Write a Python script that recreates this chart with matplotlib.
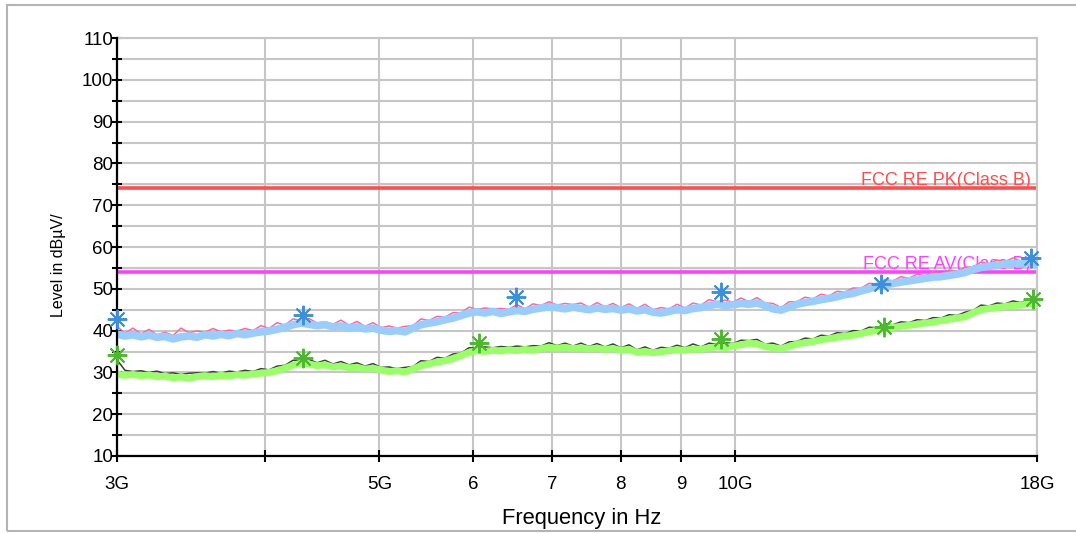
import numpy as np
import matplotlib
matplotlib.use("Agg")
import matplotlib.pyplot as plt
from matplotlib.patches import Rectangle
from matplotlib.ticker import FixedLocator, NullLocator

plt.rcParams['font.family'] = ['Liberation Sans', 'DejaVu Sans']

# ---------------- data ----------------
f_start_hz = 3e9
f_stop_hz = 18e9
n_points = 116

peak_maxhold = [
    41.0, 39.4, 40.6, 39.2, 40.3, 39.0, 39.6, 38.8, 40.6, 39.5,
    39.9, 39.6, 40.5, 39.7, 40.1, 39.9, 40.5, 40.0, 41.2, 40.5,
    41.9, 41.3, 42.8, 42.4, 42.9, 41.8, 42.1, 41.5, 42.5, 41.3,
    42.2, 41.0, 41.9, 40.7, 41.1, 40.6, 41.0, 41.2, 42.8, 42.4,
    43.4, 43.2, 44.3, 44.2, 45.6, 45.1, 45.4, 45.2, 45.3, 45.1,
    46.2, 45.2, 46.4, 46.0, 46.9, 46.1, 46.5, 46.2, 46.6, 45.6,
    46.7, 45.7, 46.5, 45.5, 46.4, 45.3, 46.3, 45.0, 45.5, 45.2,
    46.3, 45.4, 46.6, 46.1, 47.4, 46.9, 47.3, 46.8, 47.8, 46.9,
    47.9, 46.6, 46.5, 45.5, 46.9, 46.9, 48.0, 47.6, 48.7, 48.3,
    49.4, 49.2, 50.2, 50.1, 51.3, 51.2, 52.2, 51.9, 52.9, 52.5,
    53.5, 53.1, 54.1, 53.5, 54.5, 54.1, 55.2, 55.2, 56.4, 56.0,
    56.9, 56.5, 57.4, 56.6, 57.5, 56.8,
]

peak_trace = [
    39.2, 38.7, 39.0, 38.5, 38.9, 38.4, 38.6, 38.0, 38.5, 38.7,
    38.4, 39.0, 38.7, 39.1, 38.8, 39.3, 39.0, 39.4, 39.7, 39.9,
    40.3, 40.8, 41.4, 41.8, 41.5, 41.2, 41.4, 40.9, 41.1, 40.7,
    40.9, 40.4, 40.6, 40.1, 39.8, 40.0, 39.7, 40.6, 41.4, 41.8,
    42.1, 42.6, 43.0, 43.6, 44.2, 44.5, 44.2, 44.6, 44.1, 44.5,
    44.8, 44.6, 45.1, 45.4, 45.7, 45.5, 45.2, 45.6, 45.3, 45.0,
    45.4, 45.1, 45.3, 44.9, 45.2, 44.7, 45.0, 44.4, 44.2, 44.6,
    45.0, 44.8, 45.3, 45.5, 46.0, 46.3, 46.0, 46.2, 46.5, 46.3,
    46.6, 46.0, 45.2, 44.9, 45.6, 46.3, 46.7, 47.0, 47.4, 47.7,
    48.1, 48.6, 48.9, 49.5, 50.0, 50.6, 50.9, 51.3, 51.6, 51.9,
    52.2, 52.5, 52.8, 52.9, 53.2, 53.5, 53.9, 54.6, 55.1, 55.4,
    55.6, 55.9, 56.1, 56.0, 56.3, 56.1,
]

avg_maxhold = [
    33.0, 30.5, 30.2, 30.4, 30.0, 30.3, 29.7, 29.9, 29.5, 29.8,
    29.9, 29.8, 30.2, 29.8, 30.3, 30.1, 30.5, 30.2, 30.9, 30.6,
    31.5, 31.7, 32.9, 32.8, 33.1, 32.3, 32.9, 32.0, 32.6, 31.8,
    32.3, 31.5, 32.1, 31.2, 31.3, 30.9, 31.2, 31.4, 32.8, 32.6,
    33.6, 33.4, 34.4, 34.6, 35.9, 35.8, 36.1, 35.9, 36.2, 36.0,
    36.3, 36.1, 36.4, 36.3, 37.1, 36.4, 37.0, 36.3, 37.0, 36.2,
    36.9, 36.1, 36.8, 35.9, 36.6, 35.4, 36.1, 35.3, 36.0, 35.8,
    36.5, 35.9, 36.8, 36.1, 37.0, 36.7, 37.1, 36.9, 37.7, 37.6,
    37.9, 36.8, 37.0, 36.3, 37.3, 37.4, 38.2, 38.0, 38.9, 38.7,
    39.5, 39.3, 40.0, 39.9, 40.8, 40.7, 41.6, 41.4, 42.1, 41.9,
    42.6, 42.4, 43.1, 43.0, 43.8, 43.6, 44.4, 44.8, 46.1, 45.9,
    46.6, 46.4, 47.1, 46.7, 47.5, 46.9,
]

avg_trace = [
    29.6, 29.3, 29.5, 29.2, 29.4, 29.0, 29.1, 28.7, 28.9, 28.6,
    29.0, 29.2, 29.0, 29.3, 29.1, 29.5, 29.3, 29.6, 29.8, 30.0,
    30.4, 31.0, 31.7, 32.2, 32.0, 31.6, 31.8, 31.3, 31.5, 31.1,
    31.2, 30.8, 31.0, 30.6, 30.2, 30.4, 30.1, 30.8, 31.6, 32.0,
    32.5, 32.8, 33.3, 34.0, 34.8, 35.2, 35.0, 35.3, 35.1, 35.4,
    35.2, 35.5, 35.3, 35.7, 36.0, 35.8, 36.0, 35.7, 35.9, 35.6,
    35.8, 35.5, 35.7, 35.3, 35.5, 34.8, 35.0, 34.7, 34.9, 35.2,
    35.4, 35.3, 35.6, 35.5, 35.9, 36.1, 35.9, 36.3, 36.6, 37.0,
    36.8, 36.2, 35.9, 35.7, 36.2, 36.8, 37.1, 37.4, 37.8, 38.1,
    38.4, 38.7, 38.9, 39.3, 39.7, 40.1, 40.5, 40.8, 41.0, 41.3,
    41.5, 41.8, 42.0, 42.4, 42.7, 43.0, 43.3, 44.2, 45.0, 45.3,
    45.5, 45.8, 46.0, 46.1, 46.4, 46.3,
]

peak_marker_freq_ghz = [3.0, 4.31, 6.53, 9.73, 13.29, 17.80]
peak_marker_level = [42.8, 43.7, 48.0, 49.2, 51.1, 57.4]
avg_marker_freq_ghz = [3.0, 4.31, 6.07, 9.73, 13.37, 17.87]
avg_marker_level = [34.2, 33.4, 37.0, 38.0, 40.9, 47.6]

limit_pk = 74.0
limit_av = 54.0
limit_pk_label = "FCC RE PK(Class B)"
limit_av_label = "FCC RE AV(Class B)"

xtick_ghz = [3, 4, 5, 6, 7, 8, 9, 10, 18]
xtick_labels = ["3G", "", "5G", "6", "7", "8", "9", "10G", "18G"]
y_min, y_max = 10, 110

# ---------------- figure ----------------
W, H = 1076, 534
fig = plt.figure(figsize=(W / 100, H / 100), dpi=100)
fig.patch.set_facecolor('white')

ax_l, ax_r, ax_t, ax_b = 117, 1037, 38, 456
ax = fig.add_axes([ax_l / W, 1 - ax_b / H, (ax_r - ax_l) / W, (ax_b - ax_t) / H])

freq = np.geomspace(f_start_hz, f_stop_hz, n_points)

grid_col = '#c6c6c6'

# limit lines
ax.plot([f_start_hz, f_stop_hz], [limit_pk, limit_pk], color='#ff4c4c', lw=2.6, zorder=2, solid_capstyle='butt')
ax.plot([f_start_hz, f_stop_hz], [limit_av, limit_av], color='#ff40ff', lw=2.6, zorder=2, solid_capstyle='butt')
ax.annotate(limit_pk_label, xy=(f_stop_hz, limit_pk), xytext=(-4.5, 2.5), textcoords='offset points',
            ha='right', va='baseline', color='#ff4c4c', fontsize=13, zorder=2.5)
ax.annotate(limit_av_label, xy=(f_stop_hz, limit_av), xytext=(-4.5, 2.5), textcoords='offset points',
            ha='right', va='baseline', color='#ff40ff', fontsize=13, zorder=2.5)

# traces
ax.plot(freq, peak_maxhold, color='#ff6699', lw=1.1, zorder=3)
ax.plot(freq, peak_trace, color='#99ccff', lw=5.5, zorder=4)
ax.plot(freq, avg_maxhold, color='#3c3c3c', lw=1.1, zorder=3)
ax.plot(freq, avg_trace, color='#99ff66', lw=5.0, zorder=4)

# markers
ax.plot(np.array(peak_marker_freq_ghz) * 1e9, peak_marker_level, linestyle='none',
        marker=(8, 2, 0), markersize=14, markeredgewidth=1.4, color='#3d8fd9', zorder=6, clip_on=False)
ax.plot(np.array(avg_marker_freq_ghz) * 1e9, avg_marker_level, linestyle='none',
        marker=(8, 2, 0), markersize=14, markeredgewidth=1.4, color='#4cb82e', zorder=6, clip_on=False)

# axes setup
ax.set_xscale('log')
ax.set_xlim(f_start_hz, f_stop_hz)
ax.set_ylim(y_min, y_max)

ax.xaxis.set_major_locator(FixedLocator([v * 1e9 for v in xtick_ghz]))
ax.xaxis.set_minor_locator(NullLocator())
ax.set_xticklabels(xtick_labels)
ax.set_yticks(np.arange(10, 111, 10))
ax.set_yticks(np.arange(15, 110, 10), minor=True)

ax.tick_params(axis='x', which='major', direction='inout', length=8, width=1.5, pad=10.5,
               labelsize=13.5, colors='black')
ax.tick_params(axis='y', which='both', direction='inout', length=7, width=1.5, pad=-0.8,
               labelsize=13.5, colors='black')

ax.grid(True, which='both', axis='y', color=grid_col, lw=1.5, zorder=0)
ax.grid(True, which='major', axis='x', color=grid_col, lw=1.5, zorder=0)
ax.set_axisbelow(True)

for s in ['top', 'right']:
    ax.spines[s].set_color(grid_col)
    ax.spines[s].set_linewidth(1.5)
for s in ['left', 'bottom']:
    ax.spines[s].set_color('black')
    ax.spines[s].set_linewidth(1.6)
    ax.spines[s].set_zorder(5)

ax.set_xlabel("Frequency in Hz", fontsize=15.8)
ax.xaxis.set_label_coords((582 - ax_l) / (ax_r - ax_l), -(508 - ax_b) / (ax_b - ax_t))
ax.xaxis.label.set_va('top')
ax.set_ylabel("Level in dBµV/", fontsize=11.5)
ax.yaxis.set_label_coords(-(ax_l - 66) / (ax_r - ax_l), (ax_b - 265) / (ax_b - ax_t))

# outer border
fig.patches.append(Rectangle((7 / W, 1 - 531 / H), (1085 - 7) / W, (531 - 5) / H,
                             transform=fig.transFigure, fill=False, edgecolor='#b4b4b4', lw=1.5))

fig.savefig("out.png", dpi=100, facecolor='white')
